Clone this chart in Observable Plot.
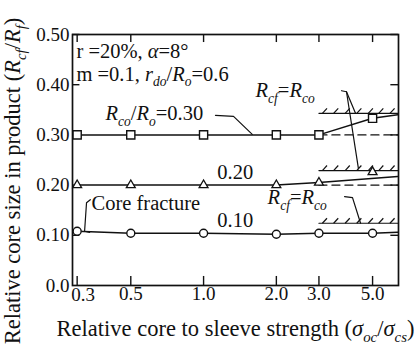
<!DOCTYPE html>
<html>
<head>
<meta charset="utf-8">
<script src="https://cdn.jsdelivr.net/npm/d3@7"></script>
<script src="https://cdn.jsdelivr.net/npm/@observablehq/plot@0.6"></script>
<style>
  html, body { margin: 0; padding: 0; background: #fff; }
  svg { display: block; }
  svg, svg text, svg tspan { font-family: "Liberation Serif", "Times New Roman", Tinos, Times, "DejaVu Serif", "Noto Serif", serif !important; }
</style>
</head>
<body>
<div id="chart"></div>
<script>
// ---- data ----
const xTicks = [0.3, 0.5, 1.0, 2.0, 3.0, 5.0];
const xTickLabels = ["0.3", "0.5", "1.0", "2.0", "3.0", "5.0"];
const yTicks = [0, 0.1, 0.2, 0.3, 0.4, 0.5];
const yTickLabels = ["0.0", "0.10", "0.20", "0.30", "0.40", "0.50"];

const strength = [0.3, 0.5, 1.0, 2.0, 3.0, 5.0];
const core030 = [0.30, 0.30, 0.30, 0.30, 0.30, 0.333];
const core020 = [0.20, 0.20, 0.20, 0.20, 0.205];
const core020At5 = 0.226;
const core010 = [0.108, 0.104, 0.104, 0.102, 0.104, 0.104];

// continuation of each curve to the right border
const edgeX = 6.35;
const edge030 = 0.340;
const edge020 = 0.217;
const edge010 = 0.106;

// R_cf = R_co boundaries (hatched) and plain-line continuations (dashed)
const boundaryX = [3.0, 6.35];
const boundary030 = 0.343;
const boundary020 = 0.229;
const boundary010 = 0.124;
const hatchX = [3.1, 3.45, 3.85, 4.3, 4.8, 5.3, 5.9];
const dashed030 = 0.30;
const dashed020 = 0.20;

// annotations: [x, y, text]
const notes = [
  [0.298, 0.467, "r =20%, *α*=8°"],
  [0.298, 0.421, "m =0.1, *r*_{do}/*R*_{o}=0.6"],
  [0.393, 0.343, "*R*_{co}/*R*_{o}=0.30"],
  [1.64, 0.388, "*R*_{cf}=*R*_{co}"],
  [1.14, 0.225, "0.20"],
  [0.344, 0.163, "Core fracture"],
  [1.14, 0.129, "0.10"],
  [1.84, 0.175, "*R*_{cf}=*R*_{co}"]
];
// leader lines: each is a list of [x, y]
const leaders = [
  [[1.12, 0.339], [1.33, 0.337], [1.59, 0.301]],
  [[0.340, 0.171], [0.328, 0.165], [0.322, 0.108], [0.338, 0.106]],
  [[3.72, 0.388], [3.90, 0.386], [4.25, 0.343]],
  [[3.90, 0.386], [4.37, 0.233]],
  [[3.83, 0.177], [4.13, 0.175], [4.46, 0.124]]
];

const xTitle = "Relative core to sleeve strength (*σ*_{oc}/*σ*_{cs})";
const yTitle = "Relative core size in product (*R*_{cf}/*R*_{f})";

// ---- derived tables ----
const pts030 = strength.map((x, i) => ({x, y: core030[i]}));
const pts020 = core020.map((y, i) => ({x: strength[i], y}));
const pts010 = strength.map((x, i) => ({x, y: core010[i]}));
const line030 = [...pts030, {x: edgeX, y: edge030}];
const line020 = [...pts020, {x: edgeX, y: edge020}];
const line010 = [...pts010, {x: edgeX, y: edge010}];
const dots020 = [...pts020, {x: 5.0, y: core020At5}];
const boundaries = [boundary030, boundary020, boundary010];
const hatches = boundaries.flatMap(b => hatchX.map(x => ({x1: x, y1: b, x2: x * 1.045, y2: b + 0.01})));
const boundaryLines = boundaries.flatMap((b, k) => boundaryX.map(x => ({x, y: b, k})));
const dashedLines = [dashed030, dashed020].flatMap((b, k) => boundaryX.map(x => ({x, y: b, k})));
const leaderPts = leaders.flatMap((L, k) => L.map(([x, y]) => ({x, y, k})));
const noteRows = notes.map(([x, y, text]) => ({x, y, text}));
const xTickRows = xTicks.map((x, i) => ({x, label: xTickLabels[i]}));
const yTickRows = yTicks.map((y, i) => ({y, label: yTickLabels[i]}));

const ink = "#111";

const chart = Plot.plot({
  width: 414,
  height: 355,
  marginLeft: 72,
  marginRight: 16,
  marginTop: 34,
  marginBottom: 70,
  x: {type: "log", domain: [0.287, 6.4], axis: null},
  y: {domain: [0, 0.5], axis: null},
  style: {fontSize: "18px", color: ink, background: "#fff"},
  marks: [
    Plot.frame({stroke: ink, strokeWidth: 1.7}),
    // inward ticks
    Plot.ruleX(xTicks, {x: d => d, y1: 0, y2: 0.018, stroke: ink, strokeWidth: 1.4}),
    Plot.ruleX(xTicks, {x: d => d, y1: 0.484, y2: 0.5, stroke: ink, strokeWidth: 1.4}),
    Plot.ruleY(yTicks.slice(1), {y: d => d, x1: 0.287, x2: 0.308, stroke: ink, strokeWidth: 1.4}),
    Plot.ruleY(yTicks.slice(1), {y: d => d, x1: 5.95, x2: 6.4, stroke: ink, strokeWidth: 1.4}),
    // tick labels (the first x label sits a little right of its tick, clear of "0.0")
    Plot.text(xTickRows.slice(0, 1), {x: "x", frameAnchor: "bottom", text: "label", textAnchor: "middle", lineAnchor: "top", dy: 2, dx: 6, fontSize: 19, fill: ink}),
    Plot.text(xTickRows.slice(1), {x: "x", frameAnchor: "bottom", text: "label", textAnchor: "middle", lineAnchor: "top", dy: 1, fontSize: 19, fill: ink}),
    Plot.text(yTickRows, {y: "y", frameAnchor: "left", text: "label", textAnchor: "end", lineAnchor: "middle", dx: -3, fontSize: 19, fill: ink}),
    // boundaries
    Plot.line(boundaryLines, {x: "x", y: "y", z: "k", stroke: ink, strokeWidth: 1.2}),
    Plot.link(hatches, {x1: "x1", y1: "y1", x2: "x2", y2: "y2", stroke: ink, strokeWidth: 1.2}),
    Plot.line(dashedLines, {x: "x", y: "y", z: "k", stroke: ink, strokeWidth: 1.4, strokeDasharray: "8,5"}),
    // curves
    Plot.line(line030, {x: "x", y: "y", stroke: ink, strokeWidth: 1.5}),
    Plot.line(line020, {x: "x", y: "y", stroke: ink, strokeWidth: 1.5}),
    Plot.line(line010, {x: "x", y: "y", stroke: ink, strokeWidth: 1.5}),
    Plot.dot(pts030, {x: "x", y: "y", symbol: "square", r: 4.6, fill: "#fff", stroke: ink, strokeWidth: 1.4}),
    Plot.dot(dots020, {x: "x", y: "y", symbol: "triangle", r: 3.3, fill: "#fff", stroke: ink, strokeWidth: 1.3}),
    Plot.dot(pts010, {x: "x", y: "y", symbol: "circle", r: 4, fill: "#fff", stroke: ink, strokeWidth: 1.4}),
    // leaders & notes
    Plot.line(leaderPts, {x: "x", y: "y", z: "k", stroke: ink, strokeWidth: 1.2}),
    Plot.text(noteRows, {x: "x", y: "y", text: "text", textAnchor: "start", lineAnchor: "middle", fontSize: 20.5, fill: ink}),
    // axis titles
    Plot.text([xTitle], {frameAnchor: "bottom", text: d => d, textAnchor: "middle", dy: 43, dx: 0, lineAnchor: "middle", fontSize: 22.5, fill: ink}),
    Plot.text([yTitle], {frameAnchor: "left", text: d => d, textAnchor: "middle", rotate: -90, dx: -60, dy: 21, lineAnchor: "middle", fontSize: 22.5, fill: ink})
  ]
});

document.getElementById("chart").appendChild(chart);

// rich text: *italic* and _{subscript}
d3.select(chart).selectAll("text").each(function () {
  const s = this.textContent;
  if (!/[*]|_\{/.test(s)) return;
  const fs = parseFloat(getComputedStyle(this).fontSize) || 18;
  const parts = s.split(/(\*[^*]+\*|_\{[^}]+\})/).filter(p => p);
  this.textContent = "";
  let shift = 0;
  for (const p of parts) {
    const t = d3.select(this).append("tspan");
    let dy;
    if (p.startsWith("_{")) {
      t.text(p.slice(2, -1)).attr("font-style", "italic").attr("font-size", fs * 0.66);
      dy = fs * 0.28 - shift; shift = fs * 0.28;
    } else {
      if (p.startsWith("*")) t.text(p.slice(1, -1)).attr("font-style", "italic");
      else t.text(p);
      dy = -shift; shift = 0;
    }
    if (dy) t.attr("dy", dy);
  }
});
</script>
</body>
</html>
